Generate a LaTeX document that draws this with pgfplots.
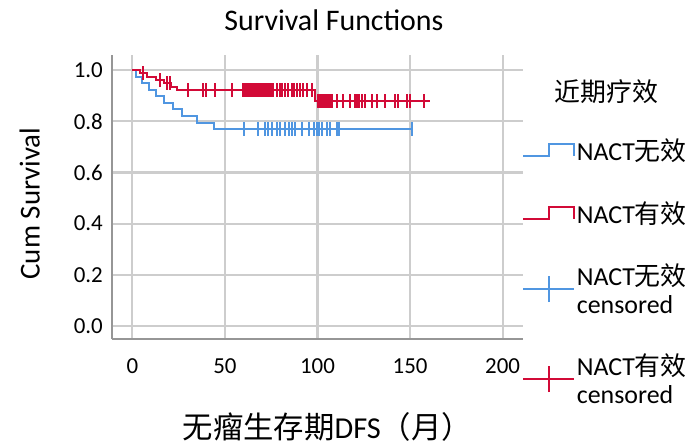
\documentclass[border=0pt]{standalone}
\usepackage{pgfplots}
\pgfplotsset{compat=1.18}
\usepackage{fontspec}
\setmainfont{Carlito}
\newfontfamily\cjk{Noto Sans CJK SC}
\definecolor{kmblue}{RGB}{80,150,225}
\definecolor{kmred}{RGB}{210,10,55}
\definecolor{gridc}{RGB}{205,205,205}
\definecolor{axc}{RGB}{150,150,150}
\begin{document}
\begin{tikzpicture}
\useasboundingbox (-112bp,-106bp) rectangle (582bp,339bp);
\begin{axis}[
  at={(0,0)}, anchor=south west,
  scale only axis, width=411bp, height=284bp,
  xmin=-11, xmax=211, ymin=-0.051, ymax=1.059,
  clip=false,
  axis x line*=bottom, axis y line*=left,
  axis line style={-, line width=2.2bp, color=axc},
  xtick={0,50,100,150,200}, ytick={0,0.2,0.4,0.6,0.8,1.0},
  major tick length=0pt,
  grid=major, major grid style={line width=2.2bp, color=gridc},
  /pgf/number format/assume math mode=true,
  yticklabel style={/pgf/number format/fixed, /pgf/number format/fixed zerofill, /pgf/number format/precision=1},
  tick label style={font=\fontsize{23}{25}\selectfont, inner sep=0pt},
  yticklabel style={anchor=east, xshift=-9bp},
  xticklabel style={anchor=north, yshift=-19bp},
  title={Survival Functions},
  title style={font=\fontsize{30}{32}\selectfont, at={(0.540,1)}, anchor=base, yshift=19bp},
  ylabel={Cum Survival},
  ylabel style={font=\fontsize{29}{31}\selectfont, at={(-0.2,0.477)}, anchor=center},
  xlabel={{\cjk 无瘤生存期}DFS{\cjk （月）}},
  xlabel style={font=\fontsize{30.5}{32}\selectfont, at={(0.524,-0.350)}, anchor=base, inner sep=0pt},
  legend style={at={(0.9976,0.7764)}, anchor=north west, draw=none, fill=none,
    row sep=0pt, column sep=0pt, inner sep=0pt,
    font=\fontsize{26}{28}\selectfont, nodes={inner xsep=2bp, inner ysep=0bp}},
  legend cell align=left,
]
\addplot[const plot, kmblue, line width=2bp,
  legend image code/.code={\draw[kmblue, line width=2bp] (0bp,-6bp) -- (25.6bp,-6bp) -- (25.6bp,6bp) -- (50.6bp,6bp) -- (50.6bp,-6bp);}]
coordinates {(0,1) (2,0.974) (5,0.949) (9,0.923) (13,0.897) (17,0.872) (22,0.846) (27,0.821) (35,0.795) (44,0.769) (151,0.769)};
\addlegendentry[text height=41.5bp, text depth=21.5bp]{NACT{\cjk 无效}}

\addplot[const plot, kmred, line width=2bp,
  legend image code/.code={\draw[kmred, line width=2bp] (0bp,-6bp) -- (25.6bp,-6bp) -- (25.6bp,6bp) -- (50.6bp,6bp) -- (50.6bp,-6bp);}]
coordinates {(0,1) (4,0.987) (8,0.974) (13,0.961) (17,0.948) (21,0.935) (24,0.921) (98.5,0.878) (161,0.878)};
\addlegendentry[text height=41.5bp, text depth=21.5bp]{NACT{\cjk 有效}}

\addplot[only marks, mark=|, mark size=7bp, kmblue, mark options={line width=2bp},
  legend image code/.code={\draw[kmblue, line width=2bp] (0bp,0bp) -- (50.6bp,0bp) (25.6bp,-13bp) -- (25.6bp,13bp);}]
coordinates {(60.4,0.769) (68,0.769) (71.7,0.769) (73.5,0.769) (75.4,0.769) (78,0.769) (79.8,0.769) (82.6,0.769) (84.4,0.769) (86.2,0.769) (88,0.769) (91.6,0.769) (95.2,0.769) (97.9,0.769) (99.7,0.769) (100.6,0.769) (102.4,0.769) (105.1,0.769) (106.9,0.769) (110.5,0.769) (111.4,0.769) (151,0.769)};
\addlegendentry[text height=40.5bp, text depth=48.5bp]{\begin{tabular}[t]{@{}l@{}}NACT{\cjk 无效}\\censored\end{tabular}}

\addplot[only marks, mark=|, mark size=7bp, kmred, mark options={line width=2bp},
  legend image code/.code={\draw[kmred, line width=2bp] (0bp,0bp) -- (50.6bp,0bp) (25.6bp,-13bp) -- (25.6bp,13bp);}]
coordinates {(5.9,0.987) (15,0.961) (18.6,0.948) (20.4,0.948)
(30,0.921) (38,0.921) (40,0.921) (44.7,0.921) (54,0.921) (59.5,0.921) (61,0.921) (62,0.921) (63,0.921) (64,0.921) (65,0.921) (66,0.921) (67,0.921) (68,0.921) (69,0.921) (70,0.921) (71,0.921) (72,0.921) (73,0.921) (74,0.921) (75,0.921) (76,0.921) (78,0.921) (79.5,0.921) (81,0.921) (82.5,0.921) (84,0.921) (86,0.921) (87.5,0.921) (89,0.921) (90.5,0.921) (92,0.921) (94.5,0.921) (97,0.921)
(100.5,0.878) (101.5,0.878) (102.5,0.878) (103.5,0.878) (104.5,0.878) (105.5,0.878) (106.5,0.878) (108,0.878) (110.5,0.878) (114,0.878) (117.7,0.878) (120.5,0.878) (121.5,0.878) (122.5,0.878) (124,0.878) (125.7,0.878) (129.5,0.878) (132,0.878) (136.5,0.878) (142,0.878) (143.6,0.878) (148.3,0.878) (150,0.878) (157.5,0.878)};
\addlegendentry[text height=41.5bp, text depth=49.5bp]{\begin{tabular}[t]{@{}l@{}}NACT{\cjk 有效}\\censored\end{tabular}}

\node[font=\fontsize{26}{28}\selectfont\cjk, anchor=center] at (rel axis cs:1.2036,0.871) {近期疗效};
\end{axis}
\end{tikzpicture}
\end{document}
